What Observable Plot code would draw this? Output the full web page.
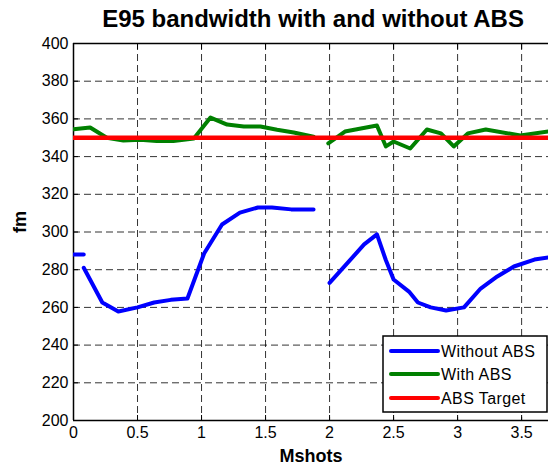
<!DOCTYPE html>
<html>
<head>
<meta charset="utf-8">
<script src="https://cdn.jsdelivr.net/npm/d3@7"></script>
<script src="https://cdn.jsdelivr.net/npm/@observablehq/plot@0.6"></script>
<style>
  html, body { margin: 0; padding: 0; background: #fff; }
  svg { font-family: "Liberation Sans", Arial, sans-serif; }
</style>
</head>
<body>
<div id="chart"></div>
<script>
const titleText = "E95 bandwidth with and without ABS";
const xLabel = "Mshots";
const yLabel = "fm";
const xTicks = [0, 0.5, 1, 1.5, 2, 2.5, 3, 3.5];
const yTicks = [200, 220, 240, 260, 280, 300, 320, 340, 360, 380, 400];
const xDomain = [0, 3.71];
const yDomain = [200, 400];

const withoutX = [0, 0.08, 0.08, 0.08, 0.225, 0.35, 0.5, 0.63, 0.76, 0.89, 1.02, 1.16, 1.30, 1.44, 1.55, 1.70, 1.875, 1.94,
  2.0, 2.27, 2.37, 2.44, 2.5, 2.62, 2.69, 2.79, 2.91, 3.05, 3.18, 3.31, 3.44, 3.6, 3.71];
const withoutY = [288, 288, null, 281, 262.6, 257.8, 260, 262.6, 264, 264.7, 288.6, 304, 310.3, 313, 313, 312, 312, null,
  273, 293.4, 298.7, 285, 274.8, 268.4, 262.6, 260, 258.4, 260, 270, 276.4, 281.7, 285.4, 286.5];

const withX = [0, 0.13, 0.26, 0.39, 0.52, 0.65, 0.78, 0.94, 1.07, 1.20, 1.33, 1.46, 1.59, 1.72, 1.875, 1.93,
  1.99, 2.12, 2.37, 2.44, 2.5, 2.63, 2.76, 2.87, 2.97, 3.08, 3.22, 3.49, 3.71];
const withY = [354.5, 355.4, 350, 348.5, 349, 348.3, 348.3, 349.6, 360.7, 357, 356, 356, 354.2, 352.8, 350.5, null,
  347, 353.3, 356.5, 345.4, 348, 344.3, 354.4, 352.3, 345.4, 352.3, 354.4, 351.2, 353.3];

const targetX = [0, 3.71];
const targetY = [350, 350];

const seriesNames = ["Without ABS", "With ABS", "ABS Target"];
const seriesColors = ["#0000ff", "#008000", "#ff0000"];

const toRows = (xs, ys) => xs.map((x, i) => ({x, y: ys[i]}));
const withoutRows = toRows(withoutX, withoutY);
const withRows = toRows(withX, withY);
const targetRows = toRows(targetX, targetY);

const font = "Liberation Sans, Arial, sans-serif";
const dash = "7,4";

const plot = Plot.plot({
  width: 548,
  height: 465,
  marginLeft: 73,
  marginRight: 0,
  marginTop: 43,
  marginBottom: 45,
  style: {fontFamily: font, background: "#fff", overflow: "visible"},
  x: {domain: xDomain},
  y: {domain: yDomain},
  marks: [
    Plot.gridX(xTicks.filter(d => d > 0), {stroke: "#000", strokeOpacity: 0.8, strokeDasharray: dash}),
    Plot.gridY(yTicks.filter(d => d > 200 && d < 400), {stroke: "#000", strokeOpacity: 0.8, strokeDasharray: dash}),
    // inward ticks
    Plot.axisX(xTicks, {anchor: "bottom", tickSize: 5, dy: -5, tickFormat: () => "", label: null, stroke: "#000"}),
    Plot.axisX(xTicks, {anchor: "top", tickSize: 5, dy: 5, tickFormat: () => "", label: null, stroke: "#000"}),
    Plot.axisY(yTicks, {anchor: "left", tickSize: 5, dx: 5, tickFormat: () => "", label: null, stroke: "#000"}),
    // tick labels
    Plot.axisX(xTicks, {anchor: "bottom", tickSize: 0, tickPadding: 6, fontSize: 16, fill: "#000", label: null, tickFormat: d => String(d), style: {letterSpacing: "0.8px"}}),
    Plot.axisY(yTicks, {anchor: "left", tickSize: 0, tickPadding: 5, fontSize: 16, fill: "#000", label: null, tickFormat: d => String(d), style: {letterSpacing: "0.8px"}}),
    // frame
    Plot.ruleX([xDomain[0]], {stroke: "#000", strokeWidth: 1.5}),
    Plot.ruleY(yDomain, {stroke: "#000", strokeWidth: 1.5}),
    // data
    Plot.line(withoutRows, {x: "x", y: "y", stroke: seriesColors[0], strokeWidth: 4, clip: true}),
    Plot.line(withRows, {x: "x", y: "y", stroke: seriesColors[1], strokeWidth: 4, clip: true}),
    Plot.line(targetRows, {x: "x", y: "y", stroke: seriesColors[2], strokeWidth: 4.5, clip: true}),
    // titles
    Plot.text([titleText], {text: d => d, frameAnchor: "top", dy: -24, dx: 2, lineAnchor: "middle", fontSize: 24, fontWeight: "bold", fill: "#000", style: {letterSpacing: "0.6px"}}),
    Plot.text([xLabel], {text: d => d, frameAnchor: "bottom", dy: 36, lineAnchor: "middle", fontSize: 18, fontWeight: "bold", fill: "#000", style: {letterSpacing: "0.6px"}}),
    Plot.text([yLabel], {text: d => d, frameAnchor: "left", dx: -53, dy: 1, rotate: -90, lineAnchor: "middle", fontSize: 18, fontWeight: "bold", fill: "#000", style: {letterSpacing: "0.6px"}})
  ]
});

// legend inside plot area (lower right)
const svg = d3.select(plot);
const lg = svg.append("g").attr("class", "legend").attr("text-anchor", "start");
const lx = 383, ly = 336, lw = 164, lh = 76;
lg.append("rect").attr("x", lx).attr("y", ly).attr("width", lw).attr("height", lh)
  .attr("fill", "#fff").attr("stroke", "#000").attr("stroke-width", 1.5);
const rowY = [351, 374, 398];
seriesNames.forEach((name, i) => {
  lg.append("line").attr("x1", 391).attr("x2", 438).attr("y1", rowY[i]).attr("y2", rowY[i])
    .attr("stroke", seriesColors[i]).attr("stroke-width", 4).attr("stroke-linecap", "round");
  lg.append("text").attr("x", 441).attr("y", rowY[i]).attr("dy", "0.36em").attr("text-anchor", "start")
    .attr("font-size", 16).attr("letter-spacing", "0.4px").attr("fill", "#000").attr("font-family", font).text(name);
});

document.getElementById("chart").appendChild(plot);
</script>
</body>
</html>
